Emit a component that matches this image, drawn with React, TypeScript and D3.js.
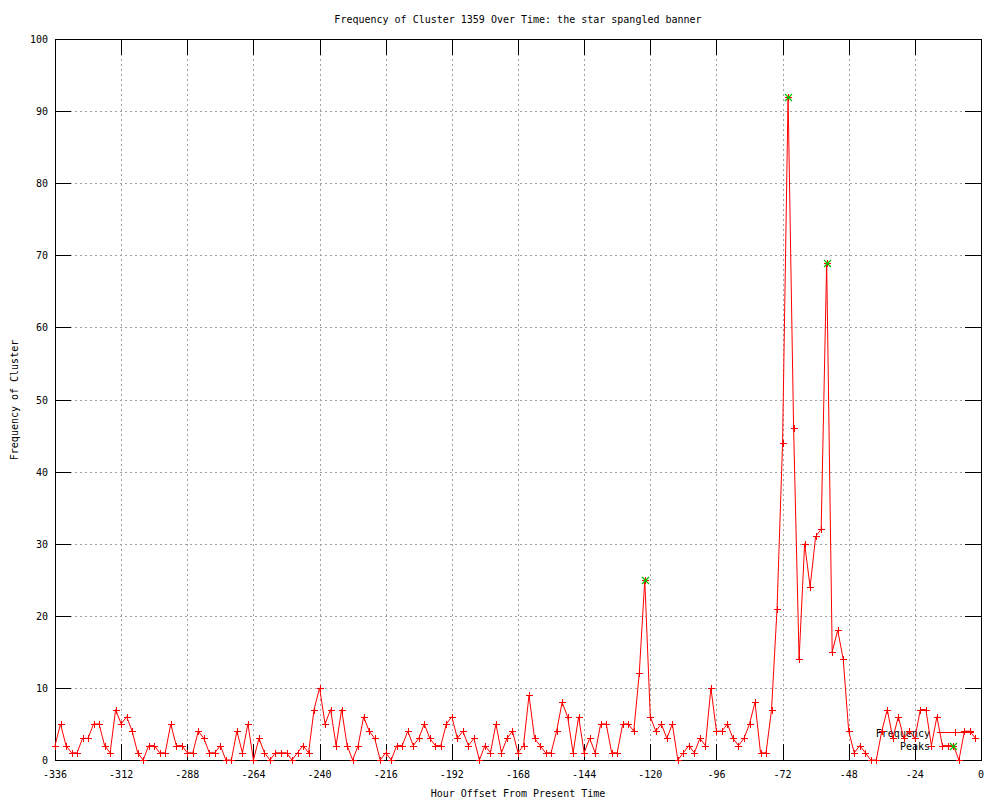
import React from "react";
import * as d3 from "d3";

const HOURS: number[] = d3.range(-336, 0, 2);
const FREQ: number[] = [
  2, 5, 2, 1, 1, 3, 3, 5, 5, 2, 1, 7,
  5, 6, 4, 1, 0, 2, 2, 1, 1, 5, 2, 2,
  1, 1, 4, 3, 1, 1, 2, 0, 0, 4, 1, 5,
  0, 3, 1, 0, 1, 1, 1, 0, 1, 2, 1, 7,
  10, 5, 7, 2, 7, 2, 0, 2, 6, 4, 3, 0,
  1, 0, 2, 2, 4, 2, 3, 5, 3, 2, 2, 5,
  6, 3, 4, 2, 3, 0, 2, 1, 5, 1, 3, 4,
  1, 2, 9, 3, 2, 1, 1, 4, 8, 6, 1, 6,
  1, 3, 1, 5, 5, 1, 1, 5, 5, 4, 12, 25,
  6, 4, 5, 3, 5, 0, 1, 2, 1, 3, 2, 10,
  4, 4, 5, 3, 2, 3, 5, 8, 1, 1, 7, 21,
  44, 92, 46, 14, 30, 24, 31, 32, 69, 15, 18, 14,
  4, 1, 2, 1, 0, 0, 4, 7, 3, 6, 3, 4,
  3, 7, 7, 2, 6, 2, 2, 2, 0, 4, 4, 3,
];
const PEAK_HOURS: number[] = [-122, -70, -56];
const PEAK_VALUES: number[] = [25, 92, 69];
const X_TICKS: number[] = [-336, -312, -288, -264, -240, -216, -192, -168, -144, -120, -96, -72, -48, -24, 0];
const Y_TICKS: number[] = [0, 10, 20, 30, 40, 50, 60, 70, 80, 90, 100];

const TITLE = "Frequency of Cluster 1359 Over Time: the star spangled banner";
const X_LABEL = "Hour Offset From Present Time";
const Y_LABEL = "Frequency of Cluster";

const L = 55, R = 981, T = 39, B = 760;
const TICK = 16;
const FONT = "'DejaVu Sans Mono', 'Liberation Mono', monospace";
const RED = "#ff0000";
const GREEN = "#00c000";

function Plus({ cx, cy, color }: { cx: number; cy: number; color: string }) {
  const s = 3.5;
  const x = Math.round(cx) + 0.5, y = Math.round(cy) + 0.5;
  return (
    <g stroke={color} strokeWidth={1} shapeRendering="crispEdges">
      <line x1={x - s} x2={x + s} y1={y} y2={y} />
      <line x1={x} x2={x} y1={y - s} y2={y + s} />
    </g>
  );
}

function Star({ cx, cy, color }: { cx: number; cy: number; color: string }) {
  const s = 3.5;
  const x = Math.round(cx) + 0.5, y = Math.round(cy) + 0.5;
  return (
    <g stroke={color} strokeWidth={1.2}>
      <line x1={x - s} x2={x + s} y1={y - s} y2={y + s} />
      <line x1={x - s} x2={x + s} y1={y + s} y2={y - s} />
      <line x1={x - 1.5} x2={x + 1.5} y1={y} y2={y} />
    </g>
  );
}

export default function App() {
  const x = d3.scaleLinear().domain([-336, 0]).range([L, R]);
  const y = d3.scaleLinear().domain([0, 100]).range([B, T]);
  const pts = HOURS.map((h, i) => [x(h), y(FREQ[i])] as [number, number]);
  const line = d3.line<[number, number]>().x((d) => d[0]).y((d) => d[1]);
  const px = (v: number) => Math.round(v) + 0.5;

  return (
    <svg
      width={1000}
      height={800}
      style={{ position: "absolute", left: 0, top: 0, background: "#fff" }}
      fontFamily={FONT}
      fontSize={10}
    >
      <rect x={0} y={0} width={1000} height={800} fill="#fff" />
      {/* grid */}
      <g stroke="#a0a0a0" strokeWidth={1} strokeDasharray="2,3" shapeRendering="crispEdges">
        {X_TICKS.filter((t) => t !== -336 && t !== 0).map((t) => (
          <line key={"gx" + t} x1={px(x(t))} x2={px(x(t))} y1={T} y2={B} />
        ))}
        {Y_TICKS.filter((t) => t !== 0 && t !== 100).map((t) => (
          <line key={"gy" + t} x1={L} x2={R} y1={px(y(t))} y2={px(y(t))} />
        ))}
      </g>
      {/* ticks */}
      <g stroke="#000" strokeWidth={1} shapeRendering="crispEdges">
        {X_TICKS.map((t) => (
          <g key={"tx" + t}>
            <line x1={px(x(t))} x2={px(x(t))} y1={B} y2={B - TICK} />
            <line x1={px(x(t))} x2={px(x(t))} y1={T} y2={T + TICK} />
          </g>
        ))}
        {Y_TICKS.map((t) => (
          <g key={"ty" + t}>
            <line x1={L} x2={L + TICK} y1={px(y(t))} y2={px(y(t))} />
            <line x1={R} x2={R - TICK} y1={px(y(t))} y2={px(y(t))} />
          </g>
        ))}
        <rect x={px(L)} y={px(T)} width={Math.round(R) - Math.round(L)} height={Math.round(B) - Math.round(T)} fill="none" />
      </g>
      {/* tick labels */}
      <g fill="#000">
        {X_TICKS.map((t) => (
          <text key={"lx" + t} x={x(t)} y={778} textAnchor="middle">
            {String(t)}
          </text>
        ))}
        {Y_TICKS.map((t) => (
          <text key={"ly" + t} x={48} y={y(t) + 4} textAnchor="end">
            {t}
          </text>
        ))}
        <text x={518} y={23} textAnchor="middle">{TITLE}</text>
        <text x={518} y={797} textAnchor="middle">{X_LABEL}</text>
        <text
          x={0}
          y={0}
          transform={`translate(18,400) rotate(-90)`}
          textAnchor="middle"
        >
          {Y_LABEL}
        </text>
      </g>
      {/* legend */}
      <g>
        <text x={930} y={737} textAnchor="end">Frequency</text>
        <line x1={937} x2={974} y1={732.5} y2={732.5} stroke={RED} shapeRendering="crispEdges" />
        <text x={930} y={750} textAnchor="end">Peaks</text>
      </g>
      {/* frequency line */}
      <path d={line(pts) || ""} fill="none" stroke={RED} strokeWidth={1} />
      {/* frequency markers */}
      {pts.map((p, i) => (
        <Plus key={"m" + i} cx={p[0]} cy={p[1]} color={RED} />
      ))}
      <Plus cx={955} cy={732} color={RED} />
      {/* peaks */}
      {PEAK_HOURS.map((h, i) => (
        <Star key={"pk" + h} cx={x(h)} cy={y(PEAK_VALUES[i])} color={GREEN} />
      ))}
      <Star cx={953} cy={746} color={GREEN} />
    </svg>
  );
}
